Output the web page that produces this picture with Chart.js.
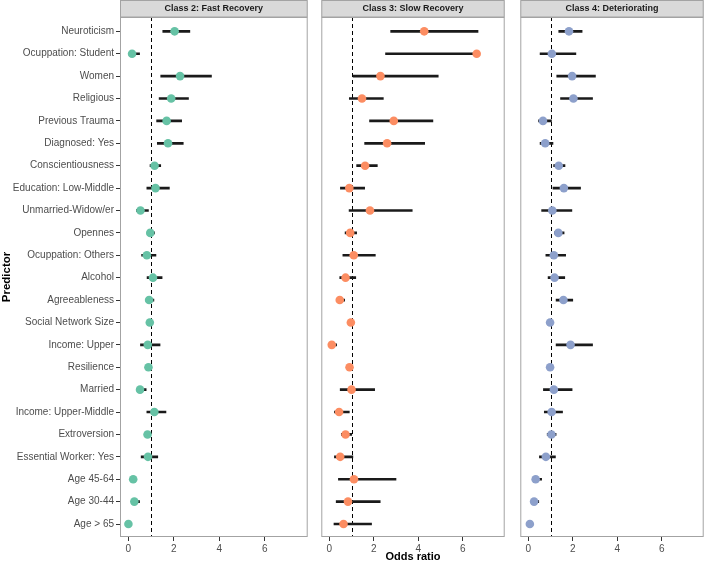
<!DOCTYPE html>
<html>
<head>
<meta charset="utf-8">
<script src="https://cdn.jsdelivr.net/npm/chart.js@4.4.1/dist/chart.umd.min.js"></script>
<style>
  body { margin: 0; background: #fff; }
  #wrap { position: relative; width: 708px; height: 563px; }
  canvas { position: absolute; top: 0; }
</style>
</head>
<body>
<div id="wrap">
  <canvas id="fastChart" width="312" height="563" style="left:0px"></canvas>
  <canvas id="slowChart" width="192" height="563" style="left:317px"></canvas>
  <canvas id="detChart" width="192" height="563" style="left:516px"></canvas>
</div>
<script>
var predictors = ['Neuroticism', 'Ocuppation: Student', 'Women', 'Religious', 'Previous Trauma',
  'Diagnosed: Yes', 'Conscientiousness', 'Education: Low-Middle', 'Unmarried-Widow/er', 'Opennes',
  'Ocuppation: Others', 'Alcohol', 'Agreeableness', 'Social Network Size', 'Income: Upper',
  'Resilience', 'Married', 'Income: Upper-Middle', 'Extroversion', 'Essential Worker: Yes',
  'Age 45-64', 'Age 30-44', 'Age > 65'];

var xTicks = [0, 2, 4, 6];

// Class 2: Fast Recovery
var fastOR = [2.04, 0.17, 2.28, 1.89, 1.69, 1.75, 1.16, 1.20, 0.54, 0.97, 0.82, 1.09, 0.92, 0.95, 0.86, 0.89, 0.52, 1.15, 0.85, 0.87, 0.22, 0.27, 0.01];
var fastLo = [1.52, 0.08, 1.43, 1.36, 1.25, 1.28, 0.96, 0.82, 0.36, 0.89, 0.59, 0.83, 0.79, 0.90, 0.54, 0.84, 0.39, 0.82, 0.78, 0.57, 0.14, 0.17, 0.00];
var fastHi = [2.71, 0.50, 3.66, 2.65, 2.35, 2.42, 1.43, 1.81, 0.89, 1.16, 1.22, 1.49, 1.13, 1.02, 1.40, 0.95, 0.79, 1.66, 0.93, 1.30, 0.32, 0.50, 0.05];

// Class 3: Slow Recovery
var slowOR = [4.27, 6.63, 2.30, 1.47, 2.90, 2.60, 1.61, 0.90, 1.83, 0.94, 1.10, 0.73, 0.47, 0.97, 0.11, 0.91, 1.00, 0.44, 0.73, 0.49, 1.11, 0.84, 0.64];
var slowLo = [2.76, 2.53, 1.07, 0.90, 1.81, 1.59, 1.23, 0.50, 0.89, 0.71, 0.61, 0.47, 0.38, 0.92, 0.04, 0.85, 0.49, 0.23, 0.54, 0.23, 0.41, 0.31, 0.21];
var slowHi = [6.69, 6.65, 4.90, 2.43, 4.66, 4.29, 2.16, 1.59, 3.73, 1.23, 2.07, 1.19, 0.69, 1.03, 0.33, 0.98, 2.04, 0.90, 1.01, 1.06, 3.00, 2.29, 1.90];

// Class 4: Deteriorating
var detOR = [1.83, 1.06, 1.97, 2.03, 0.66, 0.76, 1.37, 1.60, 1.08, 1.35, 1.15, 1.18, 1.58, 0.98, 1.90, 0.98, 1.15, 1.05, 1.04, 0.79, 0.33, 0.26, 0.07];
var detLo = [1.37, 0.53, 1.28, 1.45, 0.46, 0.53, 1.14, 1.11, 0.60, 1.17, 0.79, 0.89, 1.25, 0.92, 1.25, 0.92, 0.68, 0.72, 0.85, 0.50, 0.22, 0.18, 0.02];
var detHi = [2.42, 2.14, 3.02, 2.89, 1.04, 1.11, 1.65, 2.35, 1.96, 1.61, 1.68, 1.64, 2.00, 1.04, 2.89, 1.04, 1.97, 1.54, 1.25, 1.22, 0.60, 0.47, 0.15];

var FONT = "'Liberation Sans', Arial, sans-serif";

// strip, dashed reference line at OR = 1, panel border
var panelPlugin = {
    id: 'panel',
    beforeDraw: function(chart) {
        var a = chart.chartArea, c = chart.ctx;
        c.save();
        c.fillStyle = '#D9D9D9';
        c.fillRect(a.left, 0.5, a.right - a.left, a.top - 0.5);
        c.strokeStyle = '#A3A3A3';
        c.lineWidth = 1;
        c.strokeRect(a.left + 0.5, 0.5, a.right - a.left - 1, a.top - 0.5);
        c.restore();
    },
    beforeDatasetsDraw: function(chart) {
        var a = chart.chartArea, c = chart.ctx;
        var x = Math.round(chart.scales.x.getPixelForValue(1)) + 0.5;
        c.save();
        c.strokeStyle = '#000';
        c.lineWidth = 1;
        c.setLineDash([4, 3]);
        c.beginPath();
        c.moveTo(x, a.top);
        c.lineTo(x, a.bottom);
        c.stroke();
        c.restore();
    },
    afterDatasetsDraw: function(chart) {
        var a = chart.chartArea, c = chart.ctx;
        c.save();
        c.strokeStyle = '#A3A3A3';
        c.lineWidth = 1;
        c.strokeRect(a.left + 0.5, a.top + 0.5, a.right - a.left - 1, a.bottom - a.top - 1);
        c.restore();
    }
};

function makePanel(id, title, color, or, lo, hi, first, middle) {
    var ctx = document.getElementById(id).getContext('2d');
    return new Chart(ctx, {
        type: 'bar',
        data: {
            datasets: [{
                type: 'scatter',
                data: predictors.map(function(p, i) { return {x: or[i], y: i}; }),
                backgroundColor: color,
                borderWidth: 0,
                pointRadius: 4.3,
                order: 0
            }, {
                type: 'bar',
                indexAxis: 'y',
                data: predictors.map(function(p, i) { return {x: [lo[i], hi[i]], y: i}; }),
                backgroundColor: '#1A1A1A',
                barThickness: 2,
                order: 1
            }]
        },
        options: {
            responsive: false,
            animation: false,
            devicePixelRatio: 1,
            layout: { padding: 0 },
            plugins: {
                legend: { display: false },
                tooltip: { enabled: false },
                title: {
                    display: true,
                    text: title,
                    fullSize: false,
                    color: '#1A1A1A',
                    font: { family: FONT, size: 9, weight: 'bold', lineHeight: '13px' },
                    padding: { top: 2, bottom: 2 }
                }
            },
            scales: {
                x: {
                    type: 'linear',
                    offset: false,
                    min: -0.36,
                    max: 7.89,
                    afterBuildTicks: function(scale) {
                        scale.ticks = xTicks.map(function(v) { return {value: v}; });
                    },
                    afterFit: function(scale) { scale.height = 26; },
                    ticks: { color: '#4D4D4D', font: { family: FONT, size: 10 }, padding: 2 },
                    grid: { offset: false, drawOnChartArea: false, drawTicks: true, tickLength: 4, color: '#333333' },
                    border: { display: false },
                    title: {
                        display: middle,
                        text: 'Odds ratio',
                        color: '#000',
                        font: { family: FONT, size: 11, weight: 'bold', lineHeight: '13px' },
                        padding: { top: 0, bottom: 0 }
                    }
                },
                y: {
                    type: 'linear',
                    display: first,
                    offset: false,
                    reverse: true,
                    min: -0.64,
                    max: predictors.length - 1 + 0.58,
                    afterBuildTicks: function(scale) {
                        scale.ticks = predictors.map(function(p, i) { return {value: i}; });
                    },
                    afterFit: function(scale) { scale.width = first ? 120 : 0; },
                    ticks: {
                        autoSkip: false,
                        color: '#4D4D4D',
                        font: { family: FONT, size: 10 },
                        padding: 2,
                        callback: function(v) { return predictors[v]; }
                    },
                    grid: { offset: false, drawOnChartArea: false, drawTicks: true, tickLength: 4, color: '#333333' },
                    border: { display: false },
                    title: {
                        display: true,
                        text: 'Predictor',
                        color: '#000',
                        font: { family: FONT, size: 11.5, weight: 'bold', lineHeight: '13px' },
                        padding: { top: 0, bottom: 0 }
                    }
                }
            }
        },
        plugins: [panelPlugin]
    });
}

var fastChart = makePanel('fastChart', 'Class 2: Fast Recovery', '#66C2A5', fastOR, fastLo, fastHi, true, false);
var slowChart = makePanel('slowChart', 'Class 3: Slow Recovery', '#FC8D62', slowOR, slowLo, slowHi, false, true);
var detChart = makePanel('detChart', 'Class 4: Deteriorating', '#8DA0CB', detOR, detLo, detHi, false, false);
</script>
</body>
</html>
